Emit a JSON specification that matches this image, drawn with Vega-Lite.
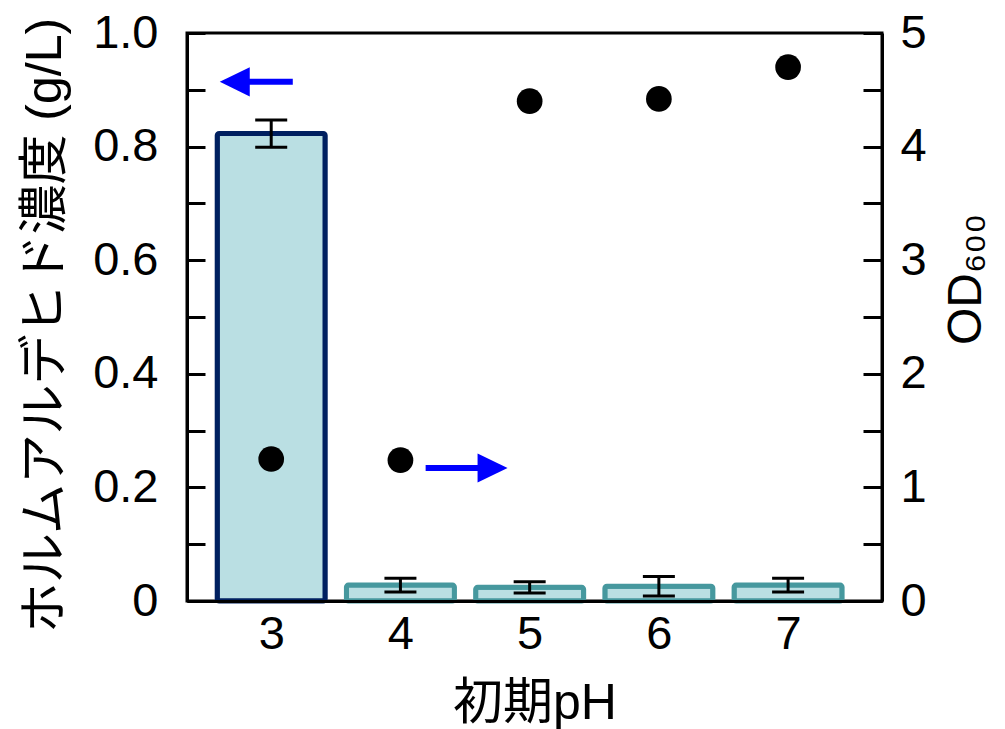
{
  "$schema": "https://vega.github.io/schema/vega-lite/v6.json",
  "width": 695,
  "height": 568,
  "autosize": {"type": "none"},
  "padding": {"left": 187, "top": 33, "right": 123, "bottom": 128},
  "background": "white",
  "config": {
    "view": {"stroke": "#000000", "strokeWidth": 3},
    "font": "Liberation Sans, Noto Sans CJK JP",
    "axis": {
      "grid": false,
      "labelFont": "Liberation Sans, Noto Sans CJK JP",
      "titleFont": "Liberation Sans, Noto Sans CJK JP",
      "labelColor": "#000000",
      "titleColor": "#000000",
      "labelFontSize": 47,
      "titleFontSize": 48,
      "titleFontWeight": "normal",
      "domainColor": "#000000",
      "domainWidth": 3,
      "tickColor": "#000000",
      "tickWidth": 3,
      "labelFlush": false,
      "labelOverlap": false
    }
  },
  "datasets": {
    "ph": [
      {"pH": 3, "conc": 0.823, "err": 0.024, "od": 1.25},
      {"pH": 4, "conc": 0.028, "err": 0.012, "od": 1.24},
      {"pH": 5, "conc": 0.024, "err": 0.010, "od": 4.40},
      {"pH": 6, "conc": 0.026, "err": 0.017, "od": 4.42},
      {"pH": 7, "conc": 0.028, "err": 0.012, "od": 4.70}
    ],
    "concArrow": [{"pH": 3.167, "pH_end": 2.718, "conc": 0.914}],
    "odArrow": [{"pH": 4.195, "pH_end": 4.713, "od": 1.171}]
  },
  "layer": [
    {
      "layer": [
        {
          "data": {"name": "ph"},
          "mark": {"type": "bar", "size": 108, "strokeWidth": 5, "cornerRadius": 2, "fill": "#BADFE3"},
          "encoding": {
            "x": {
              "field": "pH", "type": "quantitative", "title": "初期pH",
              "scale": {"domain": [2.387, 7.688], "nice": false, "zero": false},
              "axis": {
                "values": [3, 4, 5, 6, 7], "format": "d", "ticks": false,
                "labelPadding": 10, "titlePadding": 21, "titleFontSize": 50, "zindex": 1
              }
            },
            "y": {
              "field": "conc", "type": "quantitative", "title": "ホルムアルデヒド濃度 (g/L)",
              "scale": {"domain": [0, 1], "nice": false},
              "axis": {
                "orient": "left",
                "values": [0, 0.1, 0.2, 0.3, 0.4, 0.5, 0.6, 0.7, 0.8, 0.9, 1.0],
                "labelExpr": "round(datum.value * 10) % 2 == 0 ? (datum.value == 0 ? '0' : format(datum.value, '.1f')) : ''",
                "tickSize": -18, "labelPadding": 47, "zindex": 1,
                "titlePadding": 22, "titleFontSize": 50, "titleY": 292
              }
            },
            "stroke": {
              "condition": {"test": "datum.pH == 3", "value": "#002060"},
              "value": "#46989E"
            }
          }
        },
        {
          "data": {"name": "ph"},
          "mark": {
            "type": "errorbar", "color": "#000000",
            "ticks": {"size": 32, "thickness": 3, "color": "#000000", "opacity": 1},
            "rule": {"strokeWidth": 3, "color": "#000000", "opacity": 1}
          },
          "encoding": {
            "x": {"field": "pH", "type": "quantitative", "title": "初期pH"},
            "y": {"field": "conc", "type": "quantitative", "title": "ホルムアルデヒド濃度 (g/L)"},
            "yError": {"field": "err"}
          }
        },
        {
          "data": {"name": "concArrow"},
          "mark": {"type": "rule", "color": "#0000FF", "strokeWidth": 6},
          "encoding": {
            "x": {"field": "pH", "type": "quantitative", "title": "初期pH"},
            "x2": {"field": "pH_end"},
            "y": {"field": "conc", "type": "quantitative", "title": "ホルムアルデヒド濃度 (g/L)"}
          }
        },
        {
          "data": {"name": "concArrow"},
          "mark": {"type": "point", "shape": "M-1,0L1,-0.97L1,0.97Z", "size": 900, "filled": true, "color": "#0000FF", "opacity": 1, "strokeWidth": 0},
          "encoding": {
            "x": {"field": "pH_end", "type": "quantitative", "title": "初期pH"},
            "y": {"field": "conc", "type": "quantitative", "title": "ホルムアルデヒド濃度 (g/L)"}
          }
        }
      ]
    },
    {
      "layer": [
        {
          "data": {"name": "ph"},
          "mark": {"type": "point", "shape": "circle", "size": 660, "filled": true, "color": "#000000", "opacity": 1, "strokeWidth": 0},
          "encoding": {
            "x": {"field": "pH", "type": "quantitative", "title": "初期pH"},
            "y": {
              "field": "od", "type": "quantitative", "title": "OD₆₀₀",
              "scale": {"domain": [0, 5], "nice": false},
              "axis": {
                "orient": "right",
                "values": [0, 0.5, 1, 1.5, 2, 2.5, 3, 3.5, 4, 4.5, 5],
                "labelExpr": "datum.value % 1 == 0 ? format(datum.value, 'd') : ''",
                "tickSize": -19, "labelPadding": 37, "zindex": 1,
                "titleAngle": 270, "titleBaseline": "top", "titlePadding": 16, "titleY": 246
              }
            }
          }
        },
        {
          "data": {"name": "odArrow"},
          "mark": {"type": "rule", "color": "#0000FF", "strokeWidth": 6},
          "encoding": {
            "x": {"field": "pH", "type": "quantitative", "title": "初期pH"},
            "x2": {"field": "pH_end"},
            "y": {"field": "od", "type": "quantitative", "title": "OD₆₀₀"}
          }
        },
        {
          "data": {"name": "odArrow"},
          "mark": {"type": "point", "shape": "M1,0L-1,-0.97L-1,0.97Z", "size": 900, "filled": true, "color": "#0000FF", "opacity": 1, "strokeWidth": 0},
          "encoding": {
            "x": {"field": "pH_end", "type": "quantitative", "title": "初期pH"},
            "y": {"field": "od", "type": "quantitative", "title": "OD₆₀₀"}
          }
        }
      ]
    }
  ],
  "resolve": {"scale": {"y": "independent"}}
}
